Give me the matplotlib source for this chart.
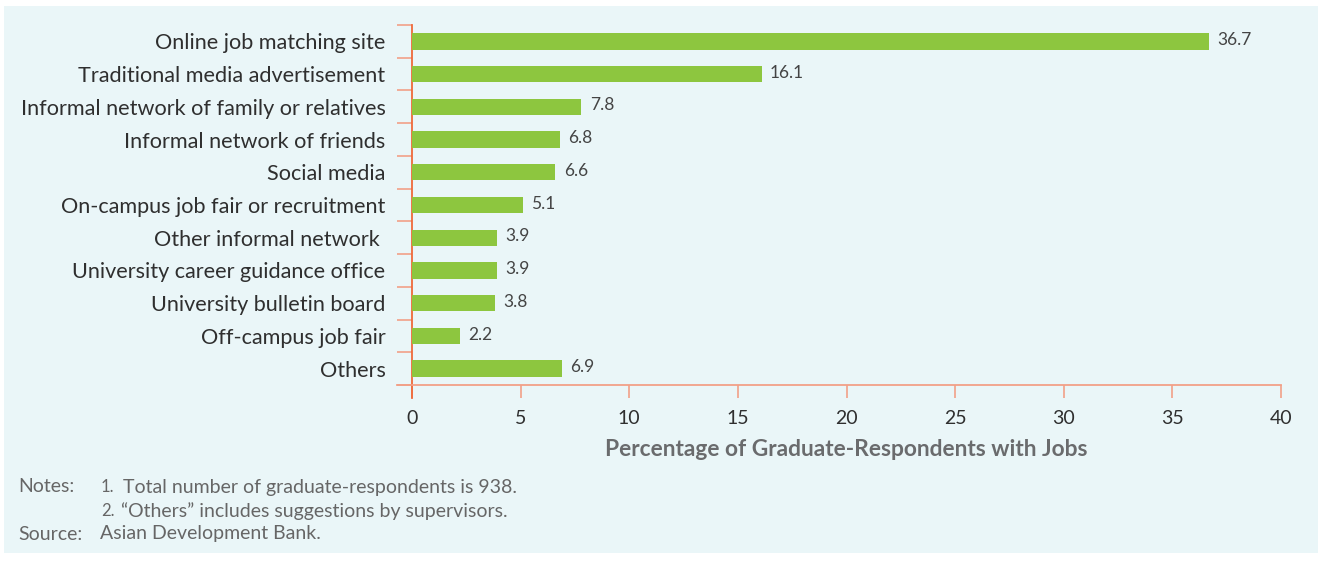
import matplotlib
matplotlib.use("Agg")
import matplotlib.pyplot as plt
from matplotlib.patches import Rectangle

categories = [
    "Online job matching site",
    "Traditional media advertisement",
    "Informal network of family or relatives",
    "Informal network of friends",
    "Social media",
    "On-campus job fair or recruitment",
    "Other informal network ",
    "University career guidance office",
    "University bulletin board",
    "Off-campus job fair",
    "Others",
]
values = [36.7, 16.1, 7.8, 6.8, 6.6, 5.1, 3.9, 3.9, 3.8, 2.2, 6.9]
value_labels = ["36.7", "16.1", "7.8", "6.8", "6.6", "5.1", "3.9", "3.9", "3.8", "2.2", "6.9"]
x_ticks = [0, 5, 10, 15, 20, 25, 30, 35, 40]
x_label = "Percentage of Graduate-Respondents with Jobs"
note_heads = ["Notes:", "", "Source:"]
note_nums = ["1.", "2.", ""]
note_texts = [
    "Total number of graduate-respondents is 938.",
    "\u201cOthers\u201d includes suggestions by supervisors.",
    "Asian Development Bank.",
]

plt.rcParams['font.family'] = ['Lato', 'DejaVu Sans']

W, H = 1318, 561
BG = "#EAF6F8"
BAR = "#8DC63F"
SPINE = "#EF6A3A"
TICK = "#F2A088"
TXT = "#2f2f2f"

fig = plt.figure(figsize=(W / 100, H / 100), dpi=100)
fig.patch.set_facecolor("white")
fig.add_artist(Rectangle((4 / W, 1 - 553 / H), 1 - 4 / W, (553 - 6) / H,
                         transform=fig.transFigure, facecolor=BG, edgecolor="none", zorder=-10))

left, right = 412 / W, 1281 / W
top, bottom = 1 - 25 / H, 1 - 385 / H
ax = fig.add_axes([left, bottom, right - left, top - bottom])
ax.set_facecolor("none")

ypos = list(range(len(categories)))
ax.barh(ypos, values, height=0.5, color=BAR, zorder=3)
ax.set_ylim(len(categories) - 0.5, -0.5)
ax.set_xlim(0, 40)

for y, v, lab in zip(ypos, values, value_labels):
    ax.annotate(lab, (v, y), xytext=(6, 1), textcoords="offset points",
                ha="left", va="center", fontsize=12.5, color="#444444")

ax.set_yticks(ypos)
ax.set_yticklabels(categories, fontsize=15.6, color=TXT)
ax.tick_params(axis="y", which="major", length=0, pad=19)
ax.set_yticks([i - 0.5 for i in range(len(categories) + 1)], minor=True)
ax.tick_params(axis="y", which="minor", length=11, width=1.2, color=TICK, direction="out")

ax.set_xticks(x_ticks)
ax.set_xticklabels([str(t) for t in x_ticks], fontsize=14, color=TXT)
ax.tick_params(axis="x", which="major", length=9, width=1.2, color=TICK, direction="out", pad=9)
ax.set_xlabel(x_label, fontsize=16.4, fontweight="bold", color="#6a6b6d", labelpad=9)

for s in ["top", "right"]:
    ax.spines[s].set_visible(False)
ax.spines["left"].set_color(SPINE)
ax.spines["left"].set_linewidth(1.3)
ax.spines["left"].set_bounds(len(categories) - 0.5, -0.5)
ax.spines["bottom"].set_color(TICK)
ax.spines["bottom"].set_linewidth(1.3)

# extend spines beyond the axes corner
ax.plot([0, 0], [0, -13 / 360], transform=ax.transAxes, color=SPINE, lw=1.3, clip_on=False)
ax.plot([-15 / 869, 0], [0, 0], transform=ax.transAxes, color=TICK, lw=1.3, clip_on=False)

ys = [487, 511, 534]
text_x = [123, 121, 100]
for head, num, txt, y, tx in zip(note_heads, note_nums, note_texts, ys, text_x):
    yy = 1 - y / H
    if head:
        fig.text(18 / W, yy, head, fontsize=14, color="#666666", va="center", ha="left")
    if num:
        fig.text(101 / W, yy, num, fontsize=12, color="#666666", va="center", ha="left")
    fig.text(tx / W, yy, txt, fontsize=14, color="#666666", va="center", ha="left")

fig.savefig("out.png", dpi=100, facecolor=fig.get_facecolor())
